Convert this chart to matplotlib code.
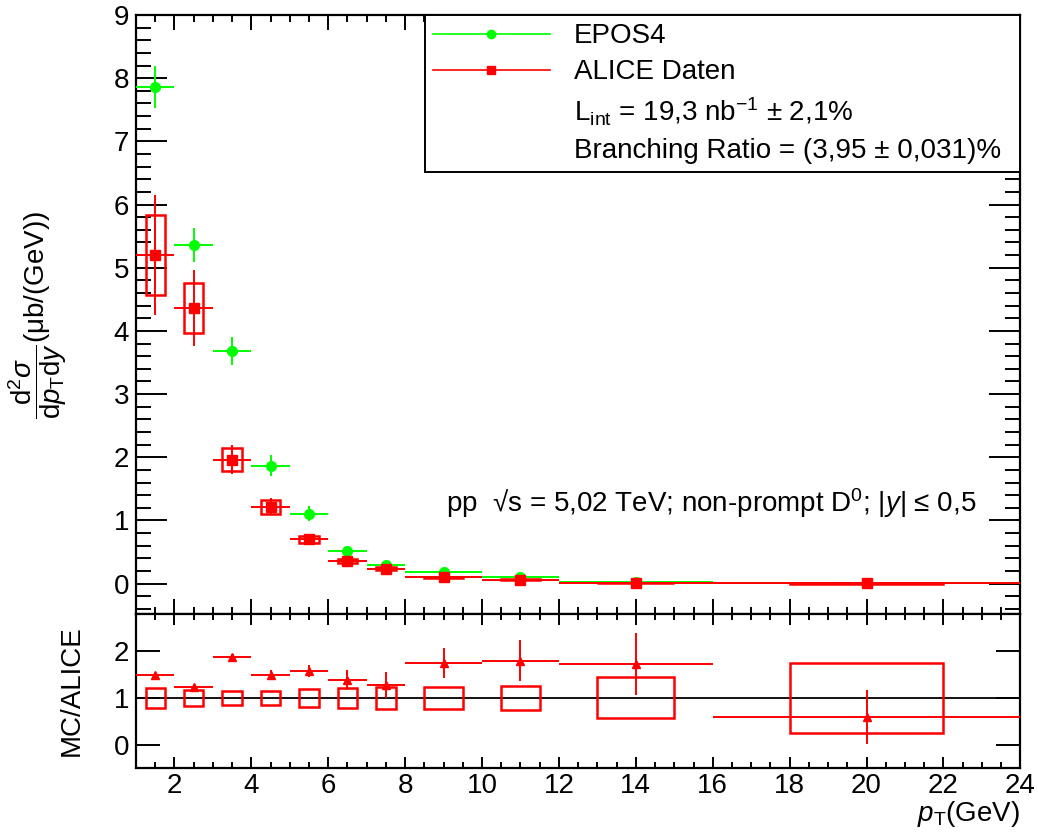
import numpy as np
import matplotlib
matplotlib.use('Agg')
import matplotlib.pyplot as plt
from matplotlib.patches import Rectangle
from matplotlib.lines import Line2D
from matplotlib.ticker import MultipleLocator

plt.rcParams['font.family'] = ['Liberation Sans', 'DejaVu Sans']
plt.rcParams['mathtext.fontset'] = 'custom'
plt.rcParams['mathtext.rm'] = 'Liberation Sans'
plt.rcParams['mathtext.it'] = 'Liberation Sans:italic'
plt.rcParams['mathtext.bf'] = 'Liberation Sans:bold'

# pT bins (GeV)
bin_lo = [1, 2, 3, 4, 5, 6, 7, 8, 10, 12, 16]
bin_hi = [2, 3, 4, 5, 6, 7, 8, 10, 12, 16, 24]
pt = [1.5, 2.5, 3.5, 4.5, 5.5, 6.5, 7.5, 9, 11, 14, 20]

# EPOS4 cross section (mub/GeV)
epos = [7.86, 5.36, 3.68, 1.87, 1.11, 0.52, 0.30, 0.19, 0.11, 0.02, 0.005]
epos_err = [0.33, 0.27, 0.22, 0.16, 0.12, 0.08, 0.05, 0.03, 0.02, 0.01, 0.003]

# ALICE data
alice = [5.20, 4.36, 1.96, 1.22, 0.70, 0.365, 0.24, 0.10, 0.06, 0.012, 0.003]
alice_stat = [0.95, 0.60, 0.23, 0.14, 0.07, 0.04, 0.03, 0.02, 0.015, 0.005, 0.002]
alice_syst = [0.63, 0.40, 0.18, 0.11, 0.05, 0.03, 0.02, 0.012, 0.008, 0.003, 0.001]

# ratio MC/ALICE
ratio = [1.50, 1.23, 1.87, 1.50, 1.58, 1.39, 1.28, 1.75, 1.80, 1.73, 0.59]
ratio_err = [0.03, 0.03, 0.07, 0.10, 0.12, 0.22, 0.28, 0.33, 0.44, 0.66, 0.58]
ratio_syst = [0.22, 0.17, 0.15, 0.16, 0.19, 0.21, 0.23, 0.23, 0.25, 0.44, 0.75]

pt = np.array(pt)
xerr = [pt - np.array(bin_lo), np.array(bin_hi) - pt]
box_w = (np.array(bin_hi) - np.array(bin_lo)) / 2.0

green = '#00ff00'
red = '#ff0000'

fig = plt.figure(figsize=(10.38, 8.32), dpi=100)
ax = fig.add_axes([0.131, 0.262, 0.852, 0.720])
ax2 = fig.add_axes([0.131, 0.077, 0.852, 0.185])

# --- top panel
ax.errorbar(pt, epos, xerr=xerr, yerr=epos_err, fmt='o', color=green,
            ms=7, lw=1.4, capsize=0, zorder=3)
for x, y, s, w in zip(pt, alice, alice_syst, box_w):
    ax.add_patch(Rectangle((x - w / 2, y - s), w, 2 * s, fill=False,
                           edgecolor=red, lw=1.8, zorder=4))
ax.errorbar(pt, alice, xerr=xerr, yerr=alice_stat, fmt='s', color=red,
            ms=7, lw=1.4, capsize=0, zorder=5)

ax.set_xlim(1, 24)
ax.set_ylim(-0.48, 9)
ax.xaxis.set_major_locator(MultipleLocator(2))
ax.xaxis.set_minor_locator(MultipleLocator(0.5))
ax.yaxis.set_major_locator(MultipleLocator(1))
ax.yaxis.set_minor_locator(MultipleLocator(0.2))
ax.tick_params(which='both', direction='in', top=True, right=True, width=1.4)
ax.tick_params(axis='x', which='major', length=11)
ax.tick_params(axis='x', which='minor', length=5)
ax.tick_params(axis='y', which='major', length=22)
ax.tick_params(axis='y', which='minor', length=11)
ax.tick_params(axis='y', labelsize=20, pad=5)
ax.tick_params(axis='x', labelbottom=False)
for sp in ax.spines.values():
    sp.set_linewidth(1.6)

ax.set_ylabel(r'$\dfrac{\mathrm{d}^{2}\sigma}{\mathrm{d}p_{\mathrm{T}}\mathrm{d}y}$(μb/(GeV))',
              fontsize=20)
ax.yaxis.set_label_coords(-0.076, 0.5)

handles = [Line2D([], [], color=green, marker='o', ms=6, lw=1.2),
           Line2D([], [], color=red, marker='s', ms=6, lw=1.2),
           Line2D([], [], color='none'),
           Line2D([], [], color='none')]
labels = ['EPOS4', 'ALICE Daten',
          r'L$_{\mathrm{int}}$ = 19,3 nb$^{-1}$ ± 2,1%',
          'Branching Ratio = (3,95 ± 0,031)%']
leg = ax.legend(handles, labels, loc='upper left',
                bbox_to_anchor=(0.3266, 0.745, 0.6734, 0.255), mode='expand',
                fontsize=20, handlelength=4.2, handletextpad=0.86,
                labelspacing=0.36, borderpad=0.3, borderaxespad=0,
                fancybox=False, framealpha=1, edgecolor='black')
leg.get_frame().set_linewidth(1.4)

ax.text(0.351, 0.185, r'pp  √s = 5,02 TeV; non-prompt D$^{0}$; |$y$| ≤ 0,5',
        transform=ax.transAxes, fontsize=20, va='center', ha='left')

# --- ratio panel
ax2.axhline(1, color='black', lw=1.3, zorder=1)
for x, s, w in zip(pt, ratio_syst, box_w):
    ax2.add_patch(Rectangle((x - w / 2, 1 - s), w, 2 * s, fill=False,
                            edgecolor=red, lw=1.8, zorder=2))
ax2.errorbar(pt, ratio, xerr=xerr, yerr=ratio_err, fmt='^', color=red,
             ms=6, lw=1.4, capsize=0, zorder=3)

ax2.set_xlim(1, 24)
ax2.set_ylim(-0.5, 2.8)
ax2.xaxis.set_major_locator(MultipleLocator(2))
ax2.xaxis.set_minor_locator(MultipleLocator(0.5))
ax2.yaxis.set_major_locator(MultipleLocator(1))
ax2.tick_params(which='both', direction='in', top=True, right=True, width=1.4)
ax2.tick_params(axis='x', which='major', length=8, labelsize=20, pad=4)
ax2.tick_params(axis='x', which='minor', length=4)
ax2.tick_params(axis='y', which='major', length=17, labelsize=20, pad=5)
for sp in ax2.spines.values():
    sp.set_linewidth(1.6)

ax2.set_ylabel('MC/ALICE', fontsize=20)
ax2.yaxis.set_label_coords(-0.058, 0.5)
ax2.set_xlabel(r'$p_{\mathrm{T}}$(GeV)', fontsize=20, loc='right')
ax2.xaxis.set_label_coords(1.0, -0.2)

fig.savefig('out.png', dpi=100)
